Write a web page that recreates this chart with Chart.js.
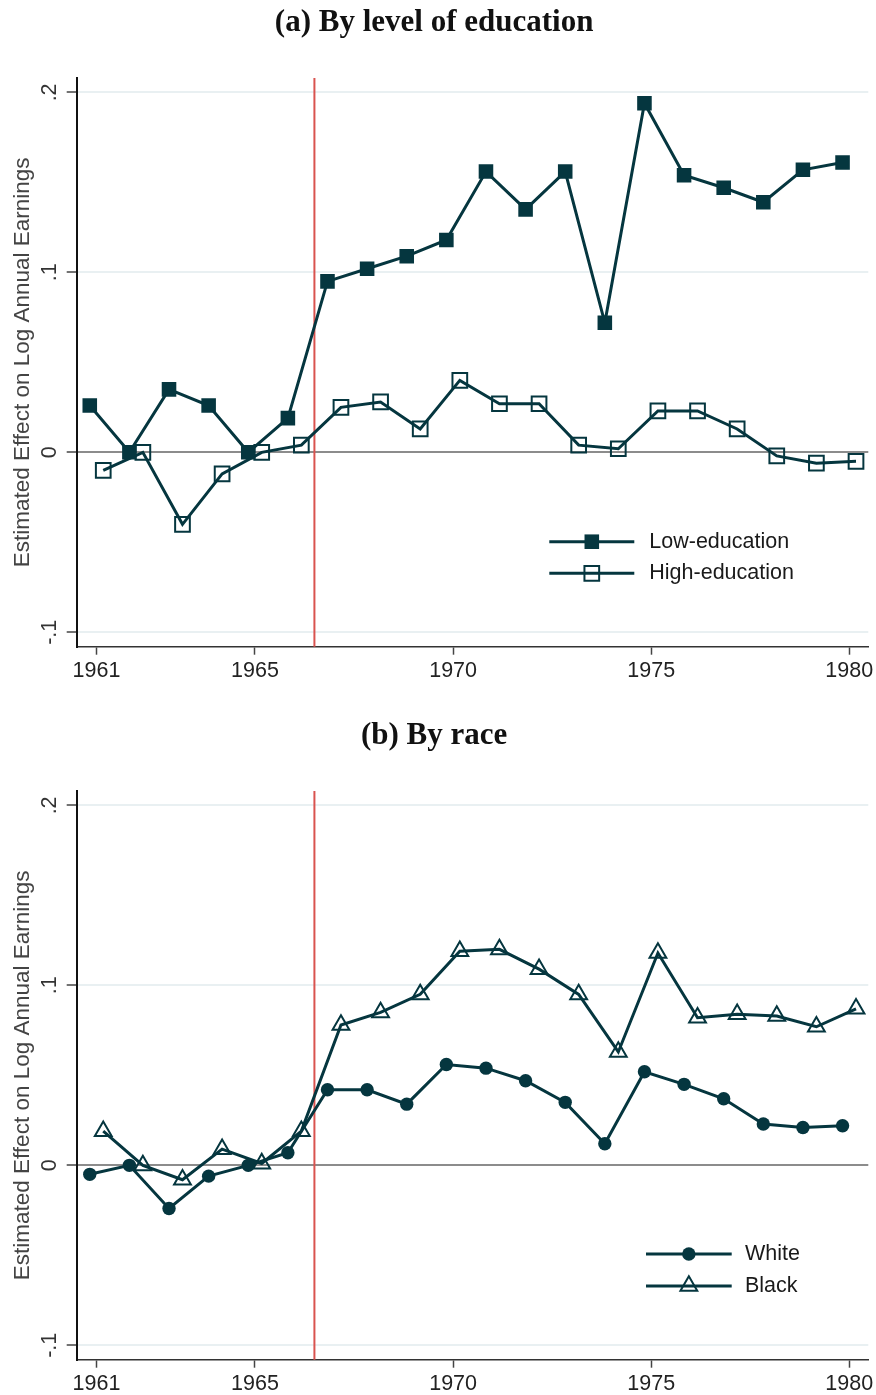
<!DOCTYPE html>
<html>
<head>
<meta charset="utf-8">
<script src="https://cdn.jsdelivr.net/npm/chart.js@4.4.1/dist/chart.umd.min.js"></script>
<style>
  body { margin: 0; background: #fff; }
  canvas { display: block; }
</style>
</head>
<body>
<canvas id="eduChart" width="876" height="713"></canvas>
<canvas id="raceChart" width="876" height="682"></canvas>
<script>
// Data
const years = [1961, 1962, 1963, 1964, 1965, 1966, 1967, 1968, 1969, 1970,
               1971, 1972, 1973, 1974, 1975, 1976, 1977, 1978, 1979, 1980];
const xTicks = [1961, 1965, 1970, 1975, 1980];
const yTicks = [-0.1, 0, 0.1, 0.2];
const yTickLabels = ['-.1', '0', '.1', '.2'];
const reformYear = 1966.5;

const lowEdu  = [0.026, 0.000, 0.035, 0.026, 0.000, 0.019, 0.095, 0.102, 0.109, 0.118,
                 0.156, 0.135, 0.156, 0.072, 0.194, 0.154, 0.147, 0.139, 0.157, 0.161];
const highEdu = [-0.010, 0.000, -0.040, -0.012, 0.000, 0.004, 0.025, 0.028, 0.013, 0.040,
                 0.027, 0.027, 0.004, 0.002, 0.023, 0.023, 0.013, -0.002, -0.006, -0.005];
const white   = [-0.005, 0.000, -0.024, -0.006, 0.000, 0.007, 0.042, 0.042, 0.034, 0.056,
                 0.054, 0.047, 0.035, 0.012, 0.052, 0.045, 0.037, 0.023, 0.021, 0.022];
const black   = [0.019, 0.000, -0.008, 0.009, 0.001, 0.019, 0.078, 0.085, 0.095, 0.119,
                 0.120, 0.109, 0.095, 0.063, 0.118, 0.082, 0.084, 0.083, 0.077, 0.087];

const teal = '#05363f';
const sans = "'Liberation Sans', Arial, sans-serif";

// series are nudged left / right of the year like in the original
function points(values, shift) {
  return years.map((yr, i) => ({ x: yr + shift, y: values[i] }));
}

function series(label, values, shift, style, radius, filled) {
  return {
    label: label,
    data: points(values, shift),
    borderColor: teal,
    borderWidth: 3,
    tension: 0,
    fill: false,
    pointStyle: style,
    pointRadius: radius,
    pointBackgroundColor: filled ? teal : 'rgba(0,0,0,0)',
    pointBorderColor: teal,
    pointBorderWidth: filled ? 0 : 2,
  };
}

// Vertical reference line at the reform year
const refLinePlugin = {
  id: 'refLine',
  beforeDatasetsDraw(chart, args, opts) {
    const { ctx, chartArea, scales } = chart;
    const x = scales.x.getPixelForValue(opts.value);
    ctx.save();
    ctx.strokeStyle = opts.color;
    ctx.lineWidth = opts.width;
    ctx.beginPath();
    ctx.moveTo(x, chartArea.top);
    ctx.lineTo(x, chartArea.bottom);
    ctx.stroke();
    ctx.restore();
  }
};

// Legend drawn inside the plot: line with marker in the middle
const lineLegendPlugin = {
  id: 'lineLegend',
  afterDatasetsDraw(chart, args, opts) {
    const ctx = chart.ctx;
    chart.data.datasets.forEach((ds, i) => {
      const y = opts.top + i * opts.rowGap;
      const mid = opts.left + opts.lineLength / 2;
      ctx.save();
      ctx.strokeStyle = ds.borderColor;
      ctx.lineWidth = ds.borderWidth;
      ctx.beginPath();
      ctx.moveTo(opts.left, y);
      ctx.lineTo(opts.left + opts.lineLength, y);
      ctx.stroke();
      ctx.fillStyle = ds.pointBackgroundColor;
      ctx.strokeStyle = ds.pointBorderColor;
      ctx.lineWidth = ds.pointBorderWidth;
      Chart.helpers.drawPoint(ctx, {
        pointStyle: ds.pointStyle,
        radius: ds.pointRadius,
        rotation: 0,
        borderWidth: ds.pointBorderWidth,
      }, mid, y);
      ctx.fillStyle = opts.color;
      ctx.font = opts.font;
      ctx.textBaseline = 'middle';
      ctx.textAlign = 'left';
      ctx.fillText(ds.label, opts.left + opts.textOffset, y);
      ctx.restore();
    });
  }
};

function makeChart(canvasId, title, datasets, legend, bottomHeight) {
  const ctx = document.getElementById(canvasId).getContext('2d');
  return new Chart(ctx, {
    type: 'line',
    data: { datasets: datasets },
    plugins: [refLinePlugin, lineLegendPlugin],
    options: {
      responsive: false,
      animation: false,
      events: [],
      layout: { autoPadding: false, padding: { left: 0, right: 7.7, top: 0, bottom: 0 } },
      plugins: {
        legend: { display: false },
        tooltip: { enabled: false },
        title: {
          display: true,
          text: title,
          color: '#111',
          font: { family: "'Liberation Serif', 'Times New Roman', serif", weight: 'bold', size: 31 },
          padding: { top: 4, bottom: 36.8 },
        },
        refLine: { value: reformYear, color: '#d9534f', width: 2 },
        lineLegend: legend,
      },
      scales: {
        x: {
          type: 'linear',
          min: 1960.5,
          max: 1980.48,
          afterBuildTicks: s => { s.ticks = xTicks.map(v => ({ value: v })); },
          afterFit: s => {
            s.height = bottomHeight;
            s.paddingLeft = 0;
            s.paddingRight = 0;
          },
          border: { display: true, color: '#333', width: 1.5 },
          grid: { drawOnChartArea: false, drawTicks: true, tickLength: 8, tickColor: '#444', tickWidth: 1.5 },
          ticks: {
            color: '#222',
            padding: 3.5,
            maxRotation: 0,
            font: { family: sans, size: 21.5 },
            callback: v => String(v),
          },
        },
        y: {
          type: 'linear',
          min: -0.108,
          max: 0.208,
          afterBuildTicks: s => { s.ticks = yTicks.map(v => ({ value: v })); },
          afterFit: s => { s.width = 76.7; },
          border: { display: true, color: '#111', width: 2 },
          grid: {
            color: c => (c.tick && c.tick.value === 0) ? '#8c8c8c' : '#e9f0f2',
            lineWidth: 2,
            drawTicks: true,
            tickLength: 10,
            tickColor: '#444',
            tickWidth: 1.5,
          },
          ticks: {
            color: '#333',
            padding: 4,
            minRotation: 90,
            maxRotation: 90,
            crossAlign: 'center',
            font: { family: sans, size: 21.5 },
            callback: (v, i) => yTickLabels[i],
          },
          title: {
            display: true,
            text: 'Estimated Effect on Log Annual Earnings',
            color: '#444',
            font: { family: sans, size: 22.5 },
            padding: { top: 9, bottom: 0 },
          },
        },
      },
    },
  });
}

makeChart('eduChart', '(a) By level of education', [
  series('Low-education', lowEdu, -0.17, 'rect', 10.3, true),
  series('High-education', highEdu, 0.17, 'rect', 10.4, false),
], { left: 549.3, top: 541.7, rowGap: 31.6, lineLength: 85, textOffset: 100, color: '#1a1a1a', font: '21.5px ' + sans }, 66.3);

makeChart('raceChart', '(b) By race', [
  series('White', white, -0.17, 'circle', 6.7, true),
  series('Black', black, 0.17, 'triangle', 9.7, false),
], { left: 646, top: 541, rowGap: 32, lineLength: 85.7, textOffset: 99, color: '#1a1a1a', font: '21.5px ' + sans }, 35.3);
</script>
</body>
</html>
